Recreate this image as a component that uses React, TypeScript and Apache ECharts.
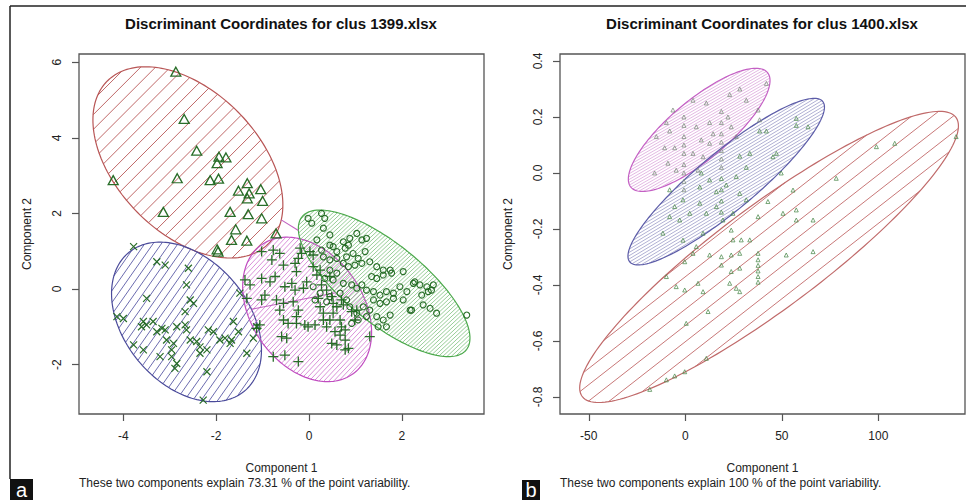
import React, { useEffect, useRef } from "react";
import * as echarts from "echarts";

// ---------- DATA ----------
// Ellipses as [centerX, centerY, varX, varY, covXY] in data units
const ellipsesA = [
  [-2.61, 3.35, 4.19, 6.4, -2.3], // cluster with triangles (red)
  [-2.64, -0.87, 2.61, 4.45, -1.21], // cluster with x marks (blue)
  [-0.04, -0.54, 1.93, 3.65, -0.84], // cluster with + marks (magenta)
  [1.62, 0.15, 3.42, 3.76, -2.68], // cluster with circles (green)
];
const linksA = [
  [0, 3],
  [1, 3],
];
const ellipsesB = [
  [7.2, 0.154, 1347, 0.0484, 6.46], // magenta
  [21.2, -0.031, 2591, 0.0885, 13.55], // blue
  [43.4, -0.3, 9624, 0.2704, 45.9], // red
];

const triA = [
  [-2.87, 5.75], [-2.69, 4.5], [-2.42, 3.66], [-1.94, 3.5], [-1.79, 3.48], [-1.98, 3.33],
  [-4.22, 2.88], [-2.84, 2.93], [-2.13, 2.88], [-1.95, 2.92], [-1.33, 2.8], [-1.52, 2.6],
  [-1.29, 2.53], [-1.04, 2.64], [-1.33, 2.4], [-1.0, 2.33], [-3.14, 2.04], [-1.7, 2.04],
  [-1.31, 1.98], [-1.02, 1.87], [-1.58, 1.58], [-1.67, 1.3], [-1.34, 1.28], [-0.71, 1.47],
  [-1.98, 1.05], [-1.96, 0.99],
];
const crossA = [
  [-3.78, 1.12], [-3.28, 0.72], [-3.1, 0.63], [-2.6, 0.55], [-2.64, 0.11], [-3.5, -0.25],
  [-2.56, -0.29], [-2.49, -0.38], [-2.67, -0.6], [-1.49, -0.11], [-4.14, -0.73], [-4.0, -0.78],
  [-3.57, -0.86], [-3.5, -0.95], [-3.61, -1.0], [-3.36, -0.86], [-3.28, -1.13], [-3.1, -1.08],
  [-3.07, -1.35], [-2.85, -1.0], [-2.67, -0.95], [-2.92, -1.44], [-2.96, -1.61], [-3.21, -1.79],
  [-2.96, -1.79], [-2.85, -1.97], [-2.89, -2.1], [-2.56, -1.35], [-2.42, -1.39], [-2.35, -1.7],
  [-2.2, -1.61], [-2.17, -1.08], [-2.06, -1.13], [-1.92, -1.35], [-1.81, -1.3], [-1.7, -1.44],
  [-1.67, -1.35], [-1.63, -0.86], [-1.52, -1.13], [-1.34, -1.7], [-2.2, -2.19], [-2.28, -2.94],
  [-1.13, -1.0], [-1.2, -1.3], [-3.78, -1.48], [-3.57, -1.61], [-2.64, -1.08], [-3.17, -1.04],
  [-2.35, -1.53],
];
const plusA = [
  [-1.02, 0.99], [-0.8, 0.77], [-0.63, 0.94], [-0.77, 1.03], [-0.55, 0.63], [-0.3, 0.68],
  [-0.27, 0.46], [-0.19, 1.08], [-0.16, 0.94], [-0.23, 0.81], [0.02, 0.99], [0.09, 0.9],
  [-1.38, 0.24], [-1.27, 0.11], [-1.34, -0.25], [-1.02, 0.28], [-0.84, 0.19], [-0.73, 0.33],
  [-1.02, -0.29], [-0.95, -0.16], [-0.52, 0.06], [-0.3, -0.03], [-0.37, 0.15], [-0.05, 0.19],
  [-0.12, 0.02], [-0.7, -0.29], [-0.55, -0.38], [-0.63, -0.56], [-0.34, -0.34], [-0.23, -0.56],
  [-0.27, -0.73], [-0.55, -0.82], [-0.45, -0.91], [-0.27, -0.91], [-0.09, -0.95], [-0.02, -1.0],
  [-0.59, -1.26], [-0.48, -1.3], [-0.77, -1.79], [-0.52, -1.75], [-0.23, -1.92], [0.2, -0.25],
  [0.24, -0.47], [0.31, -0.64], [0.13, -0.95], [0.31, -0.82], [0.38, -1.0], [0.45, -0.82],
  [0.52, -0.64], [0.6, -0.47], [0.67, -0.82], [0.7, -1.0], [0.78, -1.08], [0.56, -1.13],
  [0.67, -1.22], [0.49, -1.44], [0.6, -1.48], [0.78, -1.35], [0.78, -1.61], [0.92, -0.6],
  [1.03, -0.56], [0.99, -0.82], [0.17, 0.37], [0.27, 0.11], [0.45, 0.33], [0.09, 0.59],
  [0.24, 0.5], [0.38, -0.03], [0.49, -0.2], [0.52, -0.38], [0.7, -0.29], [0.74, -0.42],
  [1.31, -1.26], [-1.13, -1.04], [-1.06, -0.95], [0.85, -1.57],
];
const circA = [
  [-0.02, 1.87], [0.06, 1.74], [0.27, 2.0], [0.34, 1.87], [0.31, 1.61], [0.52, 1.12],
  [0.74, 1.25], [0.88, 1.34], [1.03, 1.47], [1.24, 1.34], [0.85, 1.16], [0.45, 1.16],
  [0.6, 0.99], [0.78, 1.08], [1.14, 1.3], [1.21, 0.99], [0.31, 0.85], [0.45, 0.77],
  [0.6, 0.81], [0.81, 0.85], [0.95, 0.94], [1.06, 0.81], [0.74, 0.68], [0.85, 0.59],
  [0.99, 0.63], [1.14, 0.68], [1.31, 0.72], [1.46, 0.59], [1.6, 0.5], [1.75, 0.5],
  [1.35, 0.33], [1.46, 0.28], [1.6, 0.37], [1.78, 0.42], [2.03, 0.46], [0.45, 0.5],
  [0.6, 0.42], [0.34, 0.28], [0.52, 0.24], [0.74, 0.15], [0.92, 0.11], [1.03, 0.02],
  [1.14, 0.11], [1.24, -0.03], [1.39, -0.07], [1.53, -0.16], [1.67, -0.07], [1.82, -0.11],
  [1.96, 0.06], [2.11, -0.07], [2.25, 0.15], [2.39, 0.11], [2.54, 0.06], [2.64, -0.03],
  [2.21, -0.56], [2.46, -0.42], [2.61, -0.51], [2.75, -0.64], [3.4, -0.69], [1.39, -0.29],
  [1.53, -0.38], [1.67, -0.34], [1.82, -0.25], [1.46, -0.73], [1.6, -0.82], [1.75, -0.69],
  [1.67, -1.0], [1.49, -1.0], [1.17, -0.47], [1.31, -0.56], [1.24, -0.73], [0.17, 1.3],
  [0.27, 1.03], [0.45, 1.43], [2.03, -0.29], [2.28, 0.19], [2.43, -0.16], [2.57, -0.07],
  [0.09, 0.06], [0.24, -0.11], [0.13, -0.29], [0.38, -0.34], [0.45, -0.2], [0.67, -0.11],
  [0.81, -0.29], [0.88, -0.47], [1.03, -0.64], [1.06, -0.82], [0.92, -0.91], [2.68, 0.11],
  [2.18, -0.56],
];

const magB = [
  [-15.0, 0.13], [-15.9, 0.0], [-9.8, 0.18], [-8.1, 0.15], [-10.7, 0.09], [-5.5, 0.09],
  [-0.7, 0.2], [-0.7, 0.17], [-0.7, 0.13], [-0.7, 0.1], [-0.7, 0.07], [-0.7, 0.03],
  [-0.7, 0.0], [-0.7, -0.03], [-0.7, -0.06], [5.7, 0.165], [8.3, 0.118], [4.0, 0.07],
  [9.2, 0.058], [6.6, 0.01], [12.6, 0.18], [14.4, 0.14], [12.6, 0.106], [4.0, 0.26],
  [10.9, 0.25], [23.0, 0.28], [28.2, 0.3], [31.6, 0.26], [37.7, 0.225], [38.5, 0.19],
  [22.1, 0.2], [23.8, 0.165], [26.4, 0.13], [-6.4, 0.225], [-9.0, 0.035], [-4.7, 0.01],
  [42.0, 0.32], [18.7, 0.22], [18.7, 0.18], [18.7, 0.14], [18.7, 0.11], [18.7, 0.08],
  [18.7, 0.05], [18.7, 0.02],
];
const bluB = [
  [18.7, -0.02], [18.7, -0.06], [18.7, -0.1], [18.7, -0.14], [38.5, 0.15], [42.0, 0.15],
  [47.2, 0.07], [57.5, 0.17], [63.6, 0.165], [28.2, 0.06], [33.4, 0.07], [31.6, 0.02],
  [26.4, -0.013], [21.2, -0.043], [8.3, 0.0], [12.6, -0.025], [7.5, -0.05], [16.1, -0.067],
  [-8.1, -0.06], [-1.2, -0.096], [-5.5, -0.12], [2.3, -0.144], [-2.9, -0.168], [-8.1, -0.156],
  [7.5, -0.108], [10.9, -0.144], [16.1, -0.12], [19.5, -0.168], [24.7, -0.144], [-11.6, -0.215],
  [-1.2, -0.24], [5.7, -0.263], [9.2, -0.215], [28.2, -0.073], [31.6, -0.096], [45.4, 0.058],
  [49.7, 0.0], [57.5, 0.195],
];
const redB = [
  [55.8, -0.061], [57.5, -0.132], [50.6, -0.144], [57.5, -0.168], [66.2, -0.168], [42.8, -0.102],
  [37.7, -0.156], [23.8, -0.204], [24.7, -0.239], [29.0, -0.239], [33.4, -0.239], [78.2, -0.019],
  [99.0, 0.094], [108.5, 0.106], [140.3, 0.13], [-9.8, -0.37], [-0.3, -0.317], [4.0, -0.287],
  [12.6, -0.293], [18.7, -0.299], [18.7, -0.329], [23.8, -0.352], [23.8, -0.293], [28.2, -0.287],
  [28.2, -0.34], [23.0, -0.394], [26.4, -0.412], [28.2, -0.424], [37.7, -0.287], [37.7, -0.31],
  [37.7, -0.33], [37.7, -0.35], [37.7, -0.37], [37.7, -0.39], [52.3, -0.293], [66.2, -0.281],
  [-4.7, -0.406], [-0.3, -0.418], [6.6, -0.394], [9.2, -0.424], [0.5, -0.537], [11.8, -0.495],
  [10.9, -0.662], [-9.8, -0.739], [-5.5, -0.725], [-0.3, -0.71], [-18.4, -0.773],
];

const ticksAX = [-4, -2, 0, 2];
const ticksAY = [-2, 0, 2, 4, 6];
const ticksBX = [-50, 0, 50, 100];
const ticksBY = [-0.8, -0.6, -0.4, -0.2, 0.0, 0.2, 0.4];

const titleA = "Discriminant Coordinates for clus 1399.xlsx";
const titleB = "Discriminant Coordinates for clus 1400.xlsx";
const noteA = "These two components explain 73.31 % of the point variability.";
const noteB = "These two components explain 100 % of the point variability.";

// ---------- STYLE ----------
const FONT = "'Liberation Sans', Arial, Helvetica, sans-serif";
const PT = "#1d661d";
const stylesA = [
  { line: "#b85555", hatch: "#c06868", angle: 45, spacing: 10.5, hw: 1.0 },
  { line: "#4a4a9a", hatch: "#5a5aa6", angle: 55, spacing: 6.8, hw: 0.9 },
  { line: "#c04cc0", hatch: "#cc6ccc", angle: 47, spacing: 3.6, hw: 0.75 },
  { line: "#4aa84a", hatch: "#6cb86c", angle: 43, spacing: 2.9, hw: 0.7 },
];
const stylesB = [
  { line: "#c460c4", hatch: "#d08ad0", angle: 30, spacing: 2.5, hw: 0.6 },
  { line: "#5c5ca8", hatch: "#7a7ab6", angle: 31, spacing: 2.8, hw: 0.6 },
  { line: "#c06a6a", hatch: "#c87878", angle: 38, spacing: 12.8, hw: 1.0 },
];

function ellipsePixels(e: number[], api: any, n = 180) {
  const [cx, cy, sxx, syy, sxy] = e;
  const l11 = Math.sqrt(sxx);
  const l21 = sxy / l11;
  const l22 = Math.sqrt(Math.max(syy - l21 * l21, 1e-12));
  const pts: number[][] = [];
  for (let i = 0; i < n; i++) {
    const t = (2 * Math.PI * i) / n;
    const c = Math.cos(t);
    const s = Math.sin(t);
    pts.push(api.coord([cx + l11 * c, cy + l21 * c + l22 * s]));
  }
  return pts;
}

function hatchLines(pts: number[][], angleDeg: number, spacing: number) {
  const a = (angleDeg * Math.PI) / 180;
  const dx = Math.cos(a);
  const dy = -Math.sin(a);
  const nx = -dy;
  const ny = dx;
  let mn = Infinity;
  let mx = -Infinity;
  const proj = pts.map((p) => {
    const v = p[0] * nx + p[1] * ny;
    if (v < mn) mn = v;
    if (v > mx) mx = v;
    return v;
  });
  const out: number[][][] = [];
  for (let s = Math.ceil(mn / spacing) * spacing; s <= mx; s += spacing) {
    const hits: number[][] = [];
    for (let i = 0; i < pts.length; i++) {
      const j = (i + 1) % pts.length;
      const a1 = proj[i] - s;
      const a2 = proj[j] - s;
      if ((a1 <= 0 && a2 > 0) || (a1 > 0 && a2 <= 0)) {
        const t = a1 / (a1 - a2);
        hits.push([
          pts[i][0] + t * (pts[j][0] - pts[i][0]),
          pts[i][1] + t * (pts[j][1] - pts[i][1]),
        ]);
      }
    }
    if (hits.length >= 2) {
      hits.sort((p, q) => p[0] * dx + p[1] * dy - (q[0] * dx + q[1] * dy));
      out.push([hits[0], hits[hits.length - 1]]);
    }
  }
  return out;
}

function ellipseSeries(data: number[][], styles: any[], idx: number) {
  return {
    type: "custom",
    xAxisIndex: idx,
    yAxisIndex: idx,
    data,
    encode: { x: 0, y: 1 },
    silent: true,
    z: 2,
    renderItem: (params: any, api: any) => {
      const e = [0, 1, 2, 3, 4].map((i) => api.value(i) as number);
      const st = styles[params.dataIndex];
      const pts = ellipsePixels(e, api);
      const lines = hatchLines(pts, st.angle, st.spacing);
      const children: any[] = lines.map((l) => ({
        type: "line",
        shape: { x1: l[0][0], y1: l[0][1], x2: l[1][0], y2: l[1][1] },
        style: { stroke: st.hatch, lineWidth: st.hw },
      }));
      children.push({
        type: "polygon",
        shape: { points: pts },
        style: { fill: "none", stroke: st.line, lineWidth: 1.2 },
      });
      return { type: "group", children };
    },
  };
}

function boundaryRadius(e: number[], d: number[]) {
  const [, , sxx, syy, sxy] = e;
  const det = sxx * syy - sxy * sxy;
  const q = (syy * d[0] * d[0] - 2 * sxy * d[0] * d[1] + sxx * d[1] * d[1]) / det;
  return 1 / Math.sqrt(q);
}

function linkSeries() {
  return {
    type: "custom",
    xAxisIndex: 0,
    yAxisIndex: 0,
    data: linksA,
    silent: true,
    z: 3,
    renderItem: (params: any, api: any) => {
      const [i, j] = linksA[params.dataIndex];
      const ei = ellipsesA[i];
      const ej = ellipsesA[j];
      const d = [ej[0] - ei[0], ej[1] - ei[1]];
      const ri = boundaryRadius(ei, d);
      const rj = boundaryRadius(ej, [-d[0], -d[1]]);
      if (ri + rj >= 1) return { type: "group", children: [] };
      const p1 = api.coord([ei[0] + ri * d[0], ei[1] + ri * d[1]]);
      const p2 = api.coord([ej[0] - rj * d[0], ej[1] - rj * d[1]]);
      return {
        type: "line",
        shape: { x1: p1[0], y1: p1[1], x2: p2[0], y2: p2[1] },
        style: { stroke: "#c060c0", lineWidth: 1.1 },
      };
    },
  };
}

function scatter(data: number[][], idx: number, symbol: string, size: any, color: string, bw: number) {
  return {
    type: "scatter",
    xAxisIndex: idx,
    yAxisIndex: idx,
    data,
    symbol,
    symbolSize: size,
    silent: true,
    z: 5,
    itemStyle: { color: "transparent", borderColor: color, borderWidth: bw, opacity: 0.95 },
  };
}

const axisText = { color: "#222", fontSize: 12, fontFamily: FONT };

function xAxis(idx: number, min: number, max: number, ticks: number[], fmt: (v: number) => string) {
  return {
    type: "value",
    gridIndex: idx,
    position: "bottom",
    min,
    max,
    axisLine: { show: false, onZero: false },
    splitLine: { show: false },
    axisTick: { show: true, length: 7, customValues: ticks, lineStyle: { color: "#555", width: 1.2 } },
    axisLabel: { customValues: ticks, margin: 16, formatter: fmt, ...axisText },
    name: "Component 1",
    nameLocation: "middle",
    nameGap: 48,
    nameTextStyle: axisText,
  };
}
function yAxis(idx: number, min: number, max: number, ticks: number[], fmt: (v: number) => string) {
  return {
    type: "value",
    gridIndex: idx,
    position: "left",
    min,
    max,
    axisLine: { show: false, onZero: false },
    splitLine: { show: false },
    axisTick: { show: true, length: 7, customValues: ticks, lineStyle: { color: "#555", width: 1.2 } },
    axisLabel: { customValues: ticks, margin: 16, rotate: 90, formatter: fmt, ...axisText },
    name: "Component 2",
    nameLocation: "middle",
    nameGap: 46,
    nameTextStyle: axisText,
  };
}

const fmtInt = (v: number) => String(Math.round(v));
const fmt1 = (v: number) => (Math.abs(v) < 1e-9 ? "0.0" : v.toFixed(1));

const option: any = {
  animation: false,
  backgroundColor: "#ffffff",
  title: [
    { text: titleA, left: 281, top: 16, textAlign: "center", padding: 0,
      textStyle: { fontSize: 15, fontWeight: "bold", color: "#111", fontFamily: FONT } },
    { text: titleB, left: 762, top: 16, textAlign: "center", padding: 0,
      textStyle: { fontSize: 15, fontWeight: "bold", color: "#111", fontFamily: FONT } },
  ],
  grid: [
    { left: 79, top: 54, width: 405, height: 360, show: true, borderColor: "#555", borderWidth: 1.3, backgroundColor: "transparent" },
    { left: 560, top: 54, width: 405, height: 360, show: true, borderColor: "#555", borderWidth: 1.3, backgroundColor: "transparent" },
  ],
  xAxis: [xAxis(0, -4.957, 3.772, ticksAX, fmtInt), xAxis(1, -64.9, 144.9, ticksBX, fmtInt)],
  yAxis: [yAxis(0, -3.307, 6.217, ticksAY, fmtInt), yAxis(1, -0.861, 0.425, ticksBY, fmt1)],
  series: [
    ellipseSeries(ellipsesA, stylesA, 0),
    linkSeries(),
    scatter(triA, 0, "triangle", [10, 9], PT, 1.3),
    scatter(crossA, 0, "path://M0,0L10,10M10,0L0,10", 7, PT, 1.2),
    scatter(plusA, 0, "path://M0,5L10,5M5,0L5,10", 10, PT, 1.3),
    scatter(circA, 0, "circle", 6, PT, 1.1),
    ellipseSeries(ellipsesB, stylesB, 1),
    scatter(magB, 1, "triangle", 4, "#7d8c7d", 0.8),
    scatter(bluB, 1, "triangle", 4, "#4d8a4d", 0.8),
    scatter(redB, 1, "triangle", 4, "#4d8a4d", 0.8),
  ],
  graphic: [
    { type: "line", shape: { x1: 10, y1: 6, x2: 10, y2: 479 }, style: { stroke: "#222", lineWidth: 1.5 }, silent: true },
    { type: "line", shape: { x1: 10, y1: 6, x2: 966, y2: 6 }, style: { stroke: "#222", lineWidth: 1.5 }, silent: true },
    { type: "rect", shape: { x: 10, y: 479, width: 23, height: 21 }, style: { fill: "#111" }, silent: true },
    { type: "text", x: 21.5, y: 490, style: { text: "a", fill: "#fff", font: `20px ${FONT}`, textAlign: "center", textVerticalAlign: "middle" }, silent: true },
    { type: "rect", shape: { x: 522, y: 480, width: 18, height: 20 }, style: { fill: "#111" }, silent: true },
    { type: "text", x: 531, y: 490, style: { text: "b", fill: "#fff", font: `20px ${FONT}`, textAlign: "center", textVerticalAlign: "middle" }, silent: true },
    { type: "text", x: 79, y: 483, style: { text: noteA, fill: "#222", font: `12px ${FONT}`, textAlign: "left", textVerticalAlign: "middle" }, silent: true },
    { type: "text", x: 560, y: 483, style: { text: noteB, fill: "#222", font: `12px ${FONT}`, textAlign: "left", textVerticalAlign: "middle" }, silent: true },
  ],
};

export default function App() {
  const ref = useRef<HTMLDivElement>(null);
  useEffect(() => {
    document.body.style.margin = "0";
    const chart = echarts.init(ref.current as HTMLDivElement, null, { renderer: "svg" });
    chart.setOption(option);
    return () => chart.dispose();
  }, []);
  return <div ref={ref} style={{ width: 966, height: 500 }} />;
}
